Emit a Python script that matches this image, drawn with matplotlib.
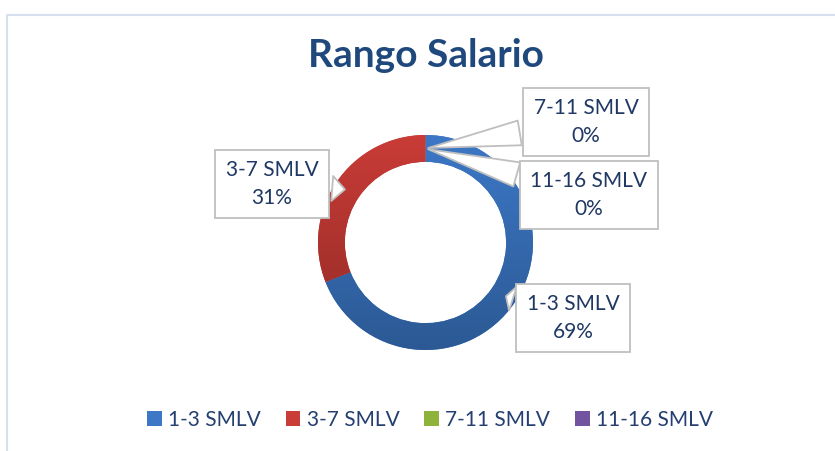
import numpy as np
import matplotlib
matplotlib.use('Agg')
import matplotlib.pyplot as plt
from matplotlib.patches import Patch, Rectangle
from matplotlib.colors import LinearSegmentedColormap

# datos
categorias = ['1-3 SMLV', '3-7 SMLV', '7-11 SMLV', '11-16 SMLV']
porcentajes = [69, 31, 0, 0]
colores = ['#3C78C6', '#C93C37', '#8DB33A', '#7153A0']
colores_osc = ['#2C5994', '#922A26', '#6E8E2A', '#583F80']

# posicion de cada etiqueta (pixeles de la figura)
pos_etiquetas = [(573, 133), (272, 267), (586, 329), (589, 256)]

plt.rcParams['font.family'] = ['Lato', 'DejaVu Sans']
W, H = 835, 451
fig = plt.figure(figsize=(W / 100, H / 100), dpi=100)

# marco del grafico
fig.patches.append(Rectangle((7 / W, -0.1), 2, (H - 15) / H + 0.1, transform=fig.transFigure,
                             fill=False, ec='#D6E0EF', lw=1.5))

ax = fig.add_axes([318 / W, 101 / H, 215 / W, 215 / H])
wedges, _ = ax.pie(porcentajes, colors=colores, startangle=90, counterclock=False, radius=1,
                   wedgeprops=dict(width=0.25, linewidth=0))

# degradado vertical en cada sector
grad = np.linspace(0, 1, 256).reshape(-1, 1)
for w, c1, c2 in zip(wedges, colores, colores_osc):
    if abs(w.theta2 - w.theta1) > 0:
        cmap = LinearSegmentedColormap.from_list('g', [c2, c1])
        im = ax.imshow(grad, extent=(-1, 1, -1, 1), origin='lower', cmap=cmap, aspect='auto',
                       zorder=1.5)
        im.set_clip_path(w)
ax.set_xlim(-1, 1)
ax.set_ylim(-1, 1)
ax.axis('off')

# etiquetas con flecha tipo globo
for w, cat, pct, pos in zip(wedges, categorias, porcentajes, pos_etiquetas):
    ang = np.deg2rad((w.theta1 + w.theta2) / 2)
    r = 0.875
    ax.annotate(f'{cat}\n{pct}%', xy=(r * np.cos(ang), r * np.sin(ang)), xycoords='data',
                xytext=pos, textcoords='figure pixels', ha='center', va='center',
                fontsize=15, color='#1F3864', linespacing=1.45, zorder=5,
                bbox=dict(boxstyle='square,pad=0.5', fc='white', ec='#BFBFBF', lw=1.3),
                arrowprops=dict(arrowstyle='wedge,tail_width=1.2,shrink_factor=0.5',
                                fc='white', ec='#BFBFBF', lw=1.3))

fig.text(426 / W, (H - 67) / H, 'Rango Salario', ha='center', va='baseline',
         fontsize=28, fontweight='bold', color='#1F497D')

handles = [Patch(facecolor=c) for c in colores]
fig.legend(handles, categorias, loc='center', bbox_to_anchor=(430 / W, 31 / H), ncol=4,
           frameon=False, fontsize=15, handlelength=0.7, handleheight=0.7,
           handletextpad=0.3, columnspacing=1.2, labelcolor='#243F70')

fig.savefig('out.png', dpi=100)
